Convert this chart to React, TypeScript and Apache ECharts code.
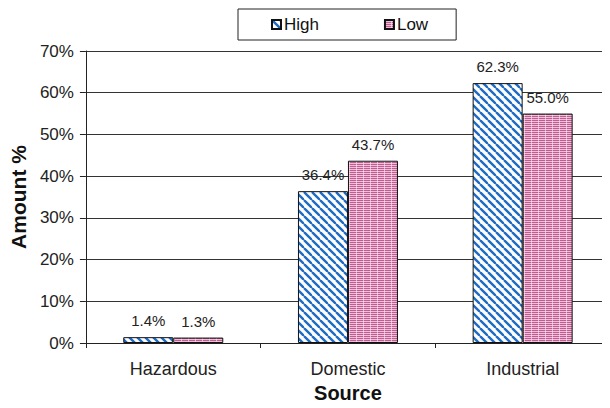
import React, { useEffect, useRef } from "react";
import * as echarts from "echarts";

const categories = ["Hazardous", "Domestic", "Industrial"];
const highValues = [1.4, 36.4, 62.3];
const lowValues = [1.3, 43.7, 55.0];
const seriesNames = ["High", "Low"];

const FONT = "'Liberation Sans', Arial, Helvetica, sans-serif";

// Blue diagonal hatching for the "High" bars
function makeHatch(): string {
  const c = document.createElement("canvas");
  c.width = 8;
  c.height = 8;
  const g = c.getContext("2d")!;
  g.fillStyle = "#ffffff";
  g.fillRect(0, 0, 8, 8);
  g.strokeStyle = "#1f6cc4";
  g.lineWidth = 2.4;
  for (const off of [-8, 0, 8]) {
    g.beginPath();
    g.moveTo(off, 0);
    g.lineTo(off + 8, 8);
    g.stroke();
  }
  return c.toDataURL();
}

// Pink horizontal ruling for the "Low" bars
function makeRuling(): string {
  const c = document.createElement("canvas");
  c.width = 7;
  c.height = 2;
  const g = c.getContext("2d")!;
  g.fillStyle = "#ebbfd6";
  g.fillRect(0, 0, 7, 2);
  g.fillStyle = "#c45a94";
  g.fillRect(0, 0, 7, 1);
  g.fillStyle = "rgba(255,240,248,0.6)";
  g.fillRect(6, 0, 1, 2);
  return c.toDataURL();
}

export default function App() {
  const ref = useRef<HTMLDivElement>(null);

  useEffect(() => {
    if (!ref.current) return;
    const chart = echarts.init(ref.current, null, { renderer: "svg" });

    const hatch = { image: makeHatch(), repeat: "repeat" };
    const ruling = { image: makeRuling(), repeat: "repeat" };

    const labelStyle = {
      show: true,
      position: "top",
      distance: 9,
      fontFamily: FONT,
      fontSize: 15,
      color: "#222",
      formatter: (p: any) => `${Number(p.value).toFixed(1)}%`,
    };

    chart.setOption({
      animation: false,
      backgroundColor: "#ffffff",
      textStyle: { fontFamily: FONT },
      legend: {
        left: 238,
        top: 9,
        data: seriesNames,
        icon: "rect",
        itemWidth: 9,
        itemHeight: 9,
        itemGap: 65,
        padding: [7, 28, 7, 33],
        borderColor: "#222",
        borderWidth: 1,
        backgroundColor: "#fff",
        textStyle: { fontFamily: FONT, fontSize: 17, color: "#111", padding: [0, 0, 0, -2] },
      },
      grid: { left: 85, top: 51, width: 529, height: 293, containLabel: false },
      xAxis: {
        type: "category",
        data: categories,
        name: "Source",
        nameLocation: "middle",
        nameGap: 40,
        nameTextStyle: { fontFamily: FONT, fontSize: 20, fontWeight: "bold", color: "#111" },
        axisLine: { show: true, lineStyle: { color: "#222", width: 1 } },
        axisTick: { show: true, alignWithLabel: false, length: 5, lineStyle: { color: "#222" } },
        axisLabel: { fontFamily: FONT, fontSize: 18, color: "#222", margin: 17 },
      },
      yAxis: {
        type: "value",
        min: 0,
        max: 70,
        interval: 10,
        name: "Amount %",
        nameLocation: "middle",
        nameGap: 54,
        nameTextStyle: { fontFamily: FONT, fontSize: 21, fontWeight: "bold", color: "#111" },
        axisLine: { show: true, lineStyle: { color: "#222", width: 1 } },
        axisTick: { show: true, length: 6, lineStyle: { color: "#222" } },
        axisLabel: {
          fontFamily: FONT,
          fontSize: 17,
          color: "#222",
          margin: 12,
          formatter: "{value}%",
        },
        splitLine: { show: true, lineStyle: { color: "#333", width: 1 } },
      },
      series: [
        {
          name: seriesNames[0],
          type: "bar",
          data: highValues,
          barWidth: 50,
          barGap: "0%",
          itemStyle: { color: hatch, borderColor: "#111", borderWidth: 1 },
          label: labelStyle,
        },
        {
          name: seriesNames[1],
          type: "bar",
          data: lowValues,
          barWidth: 50,
          barGap: "0%",
          itemStyle: { color: ruling, borderColor: "#111", borderWidth: 1 },
          label: labelStyle,
        },
      ],
    });

    return () => chart.dispose();
  }, []);

  return <div ref={ref} style={{ width: 610, height: 408, margin: -8 }} />;
}
